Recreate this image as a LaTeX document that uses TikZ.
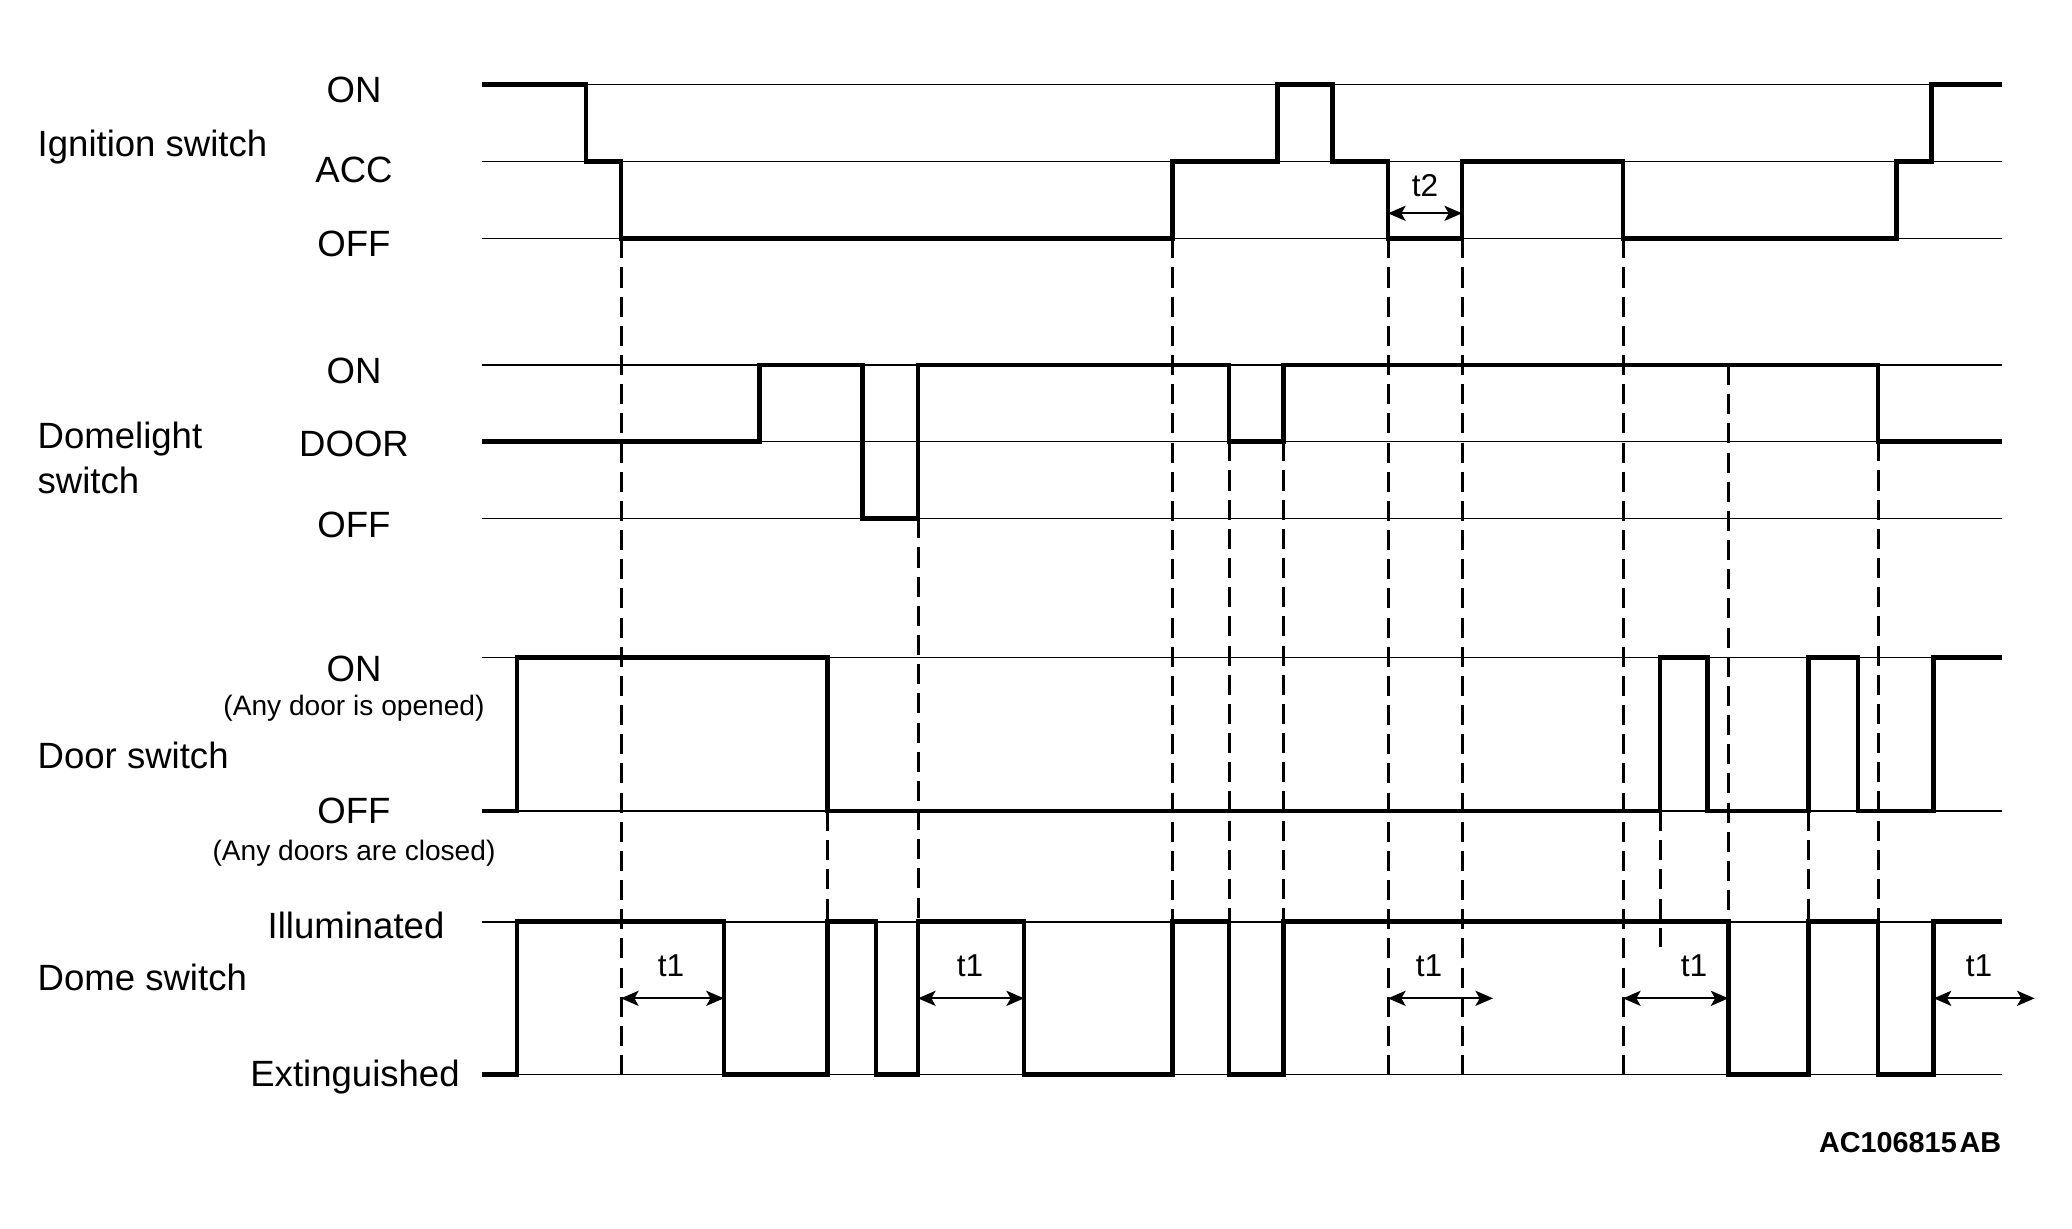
\documentclass[tikz,border=0pt]{standalone}
\usepackage{fontspec}
\setmainfont{Liberation Sans}
\usetikzlibrary{arrows.meta}
\tikzset{
  lvl/.style={line width=0.45pt},
  sig/.style={line width=1.3pt, line join=miter},
  dsh/.style={line width=0.85pt, dash pattern=on 5.7pt off 2.6pt},
  tarr/.style={line width=0.6pt, {Stealth[length=5pt,width=4.3pt,inset=1.2pt]}-{Stealth[length=5pt,width=4.3pt,inset=1.2pt]}},
  lab/.style={inner sep=0pt, anchor=base, font=\fontsize{10.4}{12}\selectfont},
  rowlab/.style={inner sep=0pt, anchor=base west, font=\fontsize{10.4}{12}\selectfont},
  small/.style={inner sep=0pt, anchor=base, font=\fontsize{8}{9.6}\selectfont},
  tlab/.style={inner sep=0pt, anchor=base, font=\fontsize{9}{10.8}\selectfont},
}
\begin{document}
\begin{tikzpicture}[x=0.1mm, y=-0.1mm]
\useasboundingbox (0,0) rectangle (2072,1228);
% level lines
\foreach \yy in {84.3,161.3,238.3,365,441.3,518.3,657.3,811,921.7,1074.3}
  \draw[lvl] (482,\yy) -- (2002,\yy);
% row labels
\node[rowlab] (ign) at (37,156.7) {Ignition switch};
\node[rowlab] (dl1) at (37,448.3) {Domelight};
\node[rowlab] (dl2) at (37,493.3) {switch};
\node[rowlab] (door) at (37,768.3) {Door switch};
\node[rowlab] (dome) at (37,990.7) {Dome switch};
% level labels
\node[lab] (ignon) at (354,102.7) {ON};
\node[lab] (ignacc) at (354,182.7) {ACC};
\node[lab] (ignoff) at (354,256.7) {OFF};
\node[lab] (dlon) at (354,383.3) {ON};
\node[lab] (dldoor) at (354,456) {DOOR};
\node[lab] (dloff) at (354,537) {OFF};
\node[lab] (dron) at (354,681) {ON};
\node[small] (dronx) at (354,715) {(Any door is opened)};
\node[lab] (droff) at (354,823.3) {OFF};
\node[small] (droffx) at (354,860) {(Any doors are closed)};
\node[lab] (dmill) at (356,938.3) {Illuminated};
\node[lab] (dmext) at (355,1086.7) {Extinguished};
% signals
\draw[sig] (482,84.3) -| (586,161.3) -| (621,238.3) -| (1172.7,161.3) -| (1277.2,84.3)
  -| (1332.4,161.3) -| (1388,238.3) -| (1462,161.3) -| (1623,238.3) -| (1896.2,161.3)
  -| (1931.2,84.3) -- (2002,84.3);
\draw[sig] (482,441.3) -| (759.4,365) -| (862.7,518.3) -| (917.9,365) -| (1229,441.3)
  -| (1283.5,365) -| (1878,441.3) -- (2002,441.3);
\draw[sig] (482,811) -| (517.2,657.3) -| (827.7,811) -| (1660,657.3) -| (1707.7,811)
  -| (1808.6,657.3) -| (1857.9,811) -| (1933.7,657.3) -- (2002,657.3);
\draw[sig] (482,1074.3) -| (517.2,921.7) -| (723.8,1074.3) -| (827.7,921.7) -| (876,1074.3)
  -| (918,921.7) -| (1024,1074.3) -| (1172.7,921.7) -| (1229,1074.3) -| (1283.5,921.7)
  -| (1728.4,1074.3) -| (1808.6,921.7) -| (1878,1074.3) -| (1933.7,921.7) -- (2002,921.7);
% dashed guides
\draw[dsh] (621,238.3) -- (621,1074.3);
\draw[dsh] (1172.7,238.3) -- (1172.7,921.7);
\draw[dsh] (918,518.3) -- (918,921.7);
\draw[dsh] (827.7,811) -- (827.7,921.7);
\draw[dsh] (1229,441.3) -- (1229,921.7);
\draw[dsh] (1283.5,441.3) -- (1283.5,921.7);
\draw[dsh] (1388,238.3) -- (1388,1074.3);
\draw[dsh] (1462,238.3) -- (1462,1074.3);
\draw[dsh] (1623,238.3) -- (1623,1074.3);
\draw[dsh] (1728.4,365) -- (1728.4,921.7);
\draw[dsh] (1878,441.3) -- (1878,921.7);
\draw[dsh] (1660,811) -- (1660,946.7);
\draw[dsh] (1808.6,811) -- (1808.6,921.7);
% timing arrows
\coordinate (t2a) at (1388,213.3); \coordinate (t2b) at (1462,213.3);
\draw[tarr] (t2a) -- (t2b);
\node[tlab] (t2) at (1425,196.7) {t2};
\coordinate (a1) at (621,998.3); \coordinate (b1) at (723.8,998.3);
\coordinate (a2) at (918,998.3); \coordinate (b2) at (1024,998.3);
\coordinate (a3) at (1388,998.3); \coordinate (b3) at (1493,998.3);
\coordinate (a4) at (1623,998.3); \coordinate (b4) at (1728.4,998.3);
\coordinate (a5) at (1933.7,998.3); \coordinate (b5) at (2034.6,998.3);
\draw[tarr] (a1) -- (b1);
\draw[tarr] (a2) -- (b2);
\draw[tarr] (a3) -- (b3);
\draw[tarr] (a4) -- (b4);
\draw[tarr] (a5) -- (b5);
\node[tlab] (t1a) at (671,976.7) {t1};
\node[tlab] (t1b) at (970,976.7) {t1};
\node[tlab] (t1c) at (1429,976.7) {t1};
\node[tlab] (t1d) at (1694,976.7) {t1};
\node[tlab] (t1e) at (1979,976.7) {t1};
% figure code
\node[inner sep=0pt, anchor=base east, font=\fontsize{8.2}{9.8}\selectfont\bfseries] (code) at (2002,1152.7) {AC106815\hspace{0.1em}AB};
\end{tikzpicture}
\end{document}
